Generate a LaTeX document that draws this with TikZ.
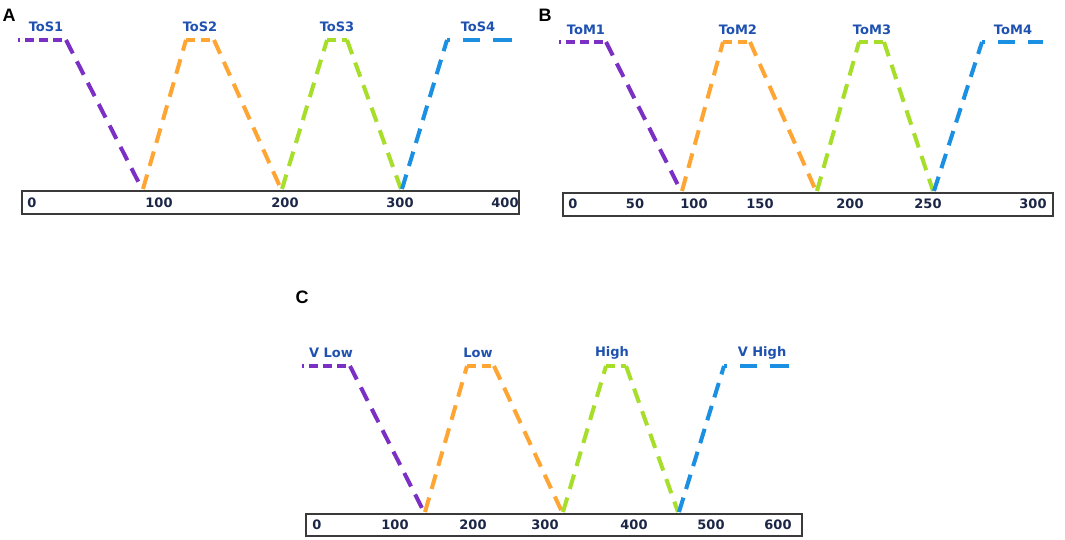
\documentclass[tikz,border=0pt]{standalone}
\usepackage{fontspec}
\newfontfamily\labfont{DejaVu Sans}
\newfontfamily\panfont{Liberation Sans}
\definecolor{cpur}{HTML}{7B2FC4}
\definecolor{cora}{HTML}{FFA534}
\definecolor{cgrn}{HTML}{A6DE2A}
\definecolor{cblu}{HTML}{1B8FE2}
\definecolor{ctxt}{HTML}{1F52B0}
\definecolor{cnum}{HTML}{1B2545}
\definecolor{cbox}{HTML}{3A3A3A}
\tikzset{
  diag/.style={line width=4pt, dash pattern=on 15pt off 9pt},
  hor/.style={line width=3.4pt, dash pattern=on 2pt off 5pt on 9pt off 5pt on 9pt off 5pt on 9pt off 5pt on 9pt off 5pt},
  hort/.style={line width=3.4pt, dash pattern=on 9pt off 6pt},
  horb/.style={line width=3.4pt, dash pattern=on 3pt off 13pt on 17pt off 13pt on 20pt off 20pt},
  lab/.style={font=\labfont\bfseries\fontsize{13}{15}\selectfont, text=ctxt, inner sep=0pt},
  num/.style={font=\labfont\bfseries\fontsize{13}{15}\selectfont, text=cnum, inner sep=0pt},
  pan/.style={font=\panfont\bfseries\fontsize{18}{20}\selectfont, text=black, inner sep=0pt},
  axisbox/.style={draw=cbox, line width=1.8pt, fill=white}
}
\begin{document}
\begin{tikzpicture}[x=1pt,y=-1pt]
\useasboundingbox (0,0) rectangle (1065,540);
\fill[white] (0,0) rectangle (1065,540);

% ---------------- Panel A ----------------
\node[pan] (pA) at (9,15) {A};
\draw[axisbox] (22,191) rectangle (519,214);
\node[num] (a0) at (32,203) {0};
\node[num] (a1) at (159,203) {100};
\node[num] (a2) at (285,203) {200};
\node[num] (a3) at (400,203) {300};
\node[num] (a4) at (505,203) {400};
\draw[cpur,hor] (18,40) -- (66,40);
\draw[cpur,diag] (66,40) -- (142,189);
\draw[cora,diag] (143,189) -- (186,40);
\draw[cora,hort] (186,40) -- (214,40);
\draw[cora,diag] (214,40) -- (281,189);
\draw[cgrn,diag] (282,189) -- (327,40);
\draw[cgrn,hort] (327,40) -- (347,40);
\draw[cgrn,diag] (347,40) -- (401,189);
\draw[cblu,diag] (402,189) -- (447,40);
\draw[cblu,horb] (447,40) -- (512,40);
\node[lab] (s1) at (46,27) {ToS1};
\node[lab] (s2) at (200,27) {ToS2};
\node[lab] (s3) at (337,27) {ToS3};
\node[lab] (s4) at (478,27) {ToS4};

% ---------------- Panel B ----------------
\node[pan] (pB) at (545,15) {B};
\draw[axisbox] (563,193) rectangle (1053,216);
\node[num] (b0) at (573,204) {0};
\node[num] (b1) at (635,204) {50};
\node[num] (b2) at (694,204) {100};
\node[num] (b3) at (760,204) {150};
\node[num] (b4) at (850,204) {200};
\node[num] (b5) at (928,204) {250};
\node[num] (b6) at (1033,204) {300};
\draw[cpur,hor] (559,42) -- (606,42);
\draw[cpur,diag] (606,42) -- (681,191);
\draw[cora,diag] (682,191) -- (723,42);
\draw[cora,hort] (723,42) -- (750,42);
\draw[cora,diag] (750,42) -- (816,191);
\draw[cgrn,diag] (817,191) -- (859,42);
\draw[cgrn,hort] (859,42) -- (884,42);
\draw[cgrn,diag] (884,42) -- (933,191);
\draw[cblu,diag] (934,191) -- (982,42);
\draw[cblu,horb] (982,42) -- (1043,42);
\node[lab] (m1) at (586,30) {ToM1};
\node[lab] (m2) at (738,30) {ToM2};
\node[lab] (m3) at (872,30) {ToM3};
\node[lab] (m4) at (1013,30) {ToM4};

% ---------------- Panel C ----------------
\node[pan] (pC) at (302,297) {C};
\draw[axisbox] (306,514) rectangle (802,536);
\node[num] (c0) at (317,525) {0};
\node[num] (c1) at (395,525) {100};
\node[num] (c2) at (473,525) {200};
\node[num] (c3) at (545,525) {300};
\node[num] (c4) at (634,525) {400};
\node[num] (c5) at (711,525) {500};
\node[num] (c6) at (778,525) {600};
\draw[cpur,hor] (302,366) -- (350,366);
\draw[cpur,diag] (350,366) -- (424,512);
\draw[cora,diag] (425,512) -- (467,366);
\draw[cora,hort] (467,366) -- (494,366);
\draw[cora,diag] (494,366) -- (562,512);
\draw[cgrn,diag] (563,512) -- (606,366);
\draw[cgrn,hort] (606,366) -- (626,366);
\draw[cgrn,diag] (626,366) -- (678,512);
\draw[cblu,diag] (679,512) -- (724,366);
\draw[cblu,horb] (724,366) -- (789,366);
\node[lab] (l1) at (331,353) {V Low};
\node[lab] (l2) at (478,353) {Low};
\node[lab] (l3) at (612,353) {High};
\node[lab] (l4) at (762,353) {V High};
\end{tikzpicture}
\end{document}
